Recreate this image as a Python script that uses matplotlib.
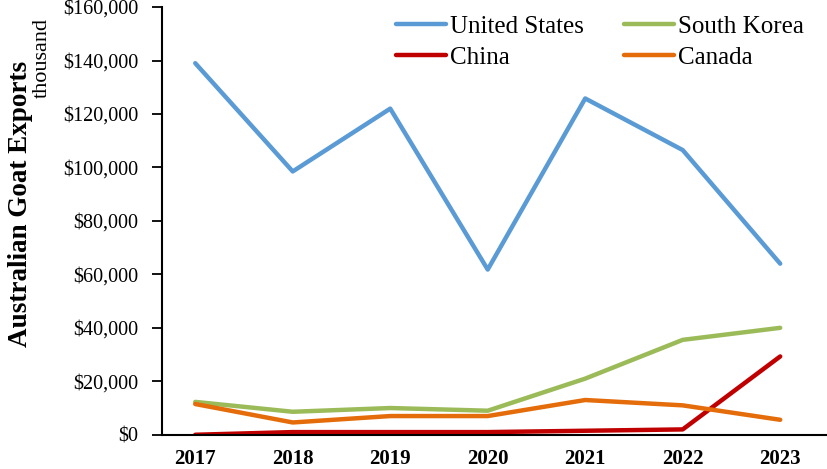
import matplotlib
matplotlib.use("Agg")
import matplotlib.pyplot as plt
from matplotlib.ticker import FuncFormatter

years = [2017, 2018, 2019, 2020, 2021, 2022, 2023]
united_states = [139000, 98500, 122000, 61800, 125800, 106500, 64000]
south_korea = [12300, 8600, 10000, 9000, 21000, 35500, 40000]
china = [0, 1000, 1000, 1000, 1500, 2000, 29300]
canada = [11500, 4600, 7000, 7000, 13000, 11000, 5600]

SERIES = [
    ("United States", united_states, "#5B9BD5"),
    ("South Korea", south_korea, "#9BBB59"),
    ("China", china, "#C00000"),
    ("Canada", canada, "#E46C0A"),
]

plt.rcParams["font.family"] = ["Liberation Serif", "DejaVu Serif"]

fig = plt.figure(figsize=(8.27, 4.69), dpi=100)
ax = fig.add_axes([0.196, 0.073, 0.804, 0.912])

x = list(range(len(years)))
lines = {}
for name, vals, color in SERIES:
    lines[name], = ax.plot(x, vals, color=color, lw=3.2, label=name,
                           solid_capstyle="round")

ax.set_ylim(0, 160000)
ax.set_yticks(range(0, 160001, 20000))
ax.yaxis.set_major_formatter(FuncFormatter(lambda v, p: f"${v:,.0f}"))
ax.set_xlim(-0.34, 6.48)
ax.set_xticks(x)
ax.set_xticklabels([str(y) for y in years], fontweight="bold")

ax.tick_params(axis="y", labelsize=14.5, length=7, width=1.3, direction="out", pad=10)
ax.tick_params(axis="x", labelsize=15, length=0, pad=10.5)

for side in ("top", "right"):
    ax.spines[side].set_visible(False)
for side in ("left", "bottom"):
    ax.spines[side].set_linewidth(1.5)

fig.text(0.025, 0.565, "Australian Goat Exports", rotation=90, fontsize=19.5,
         fontweight="bold", ha="center", va="center")
fig.text(0.051, 0.877, "thousand", rotation=90, fontsize=16, ha="center", va="center")

# legend filled row by row like the original
order = ["United States", "China", "South Korea", "Canada"]
ax.legend([lines[n] for n in order], order, loc="upper left",
          bbox_to_anchor=(0.452, 1.015), bbox_transform=fig.transFigure,
          ncol=2, frameon=False, fontsize=18, handlelength=2.0, handletextpad=0.15,
          columnspacing=1.6, labelspacing=0.35)

fig.savefig("out.png", dpi=100)
